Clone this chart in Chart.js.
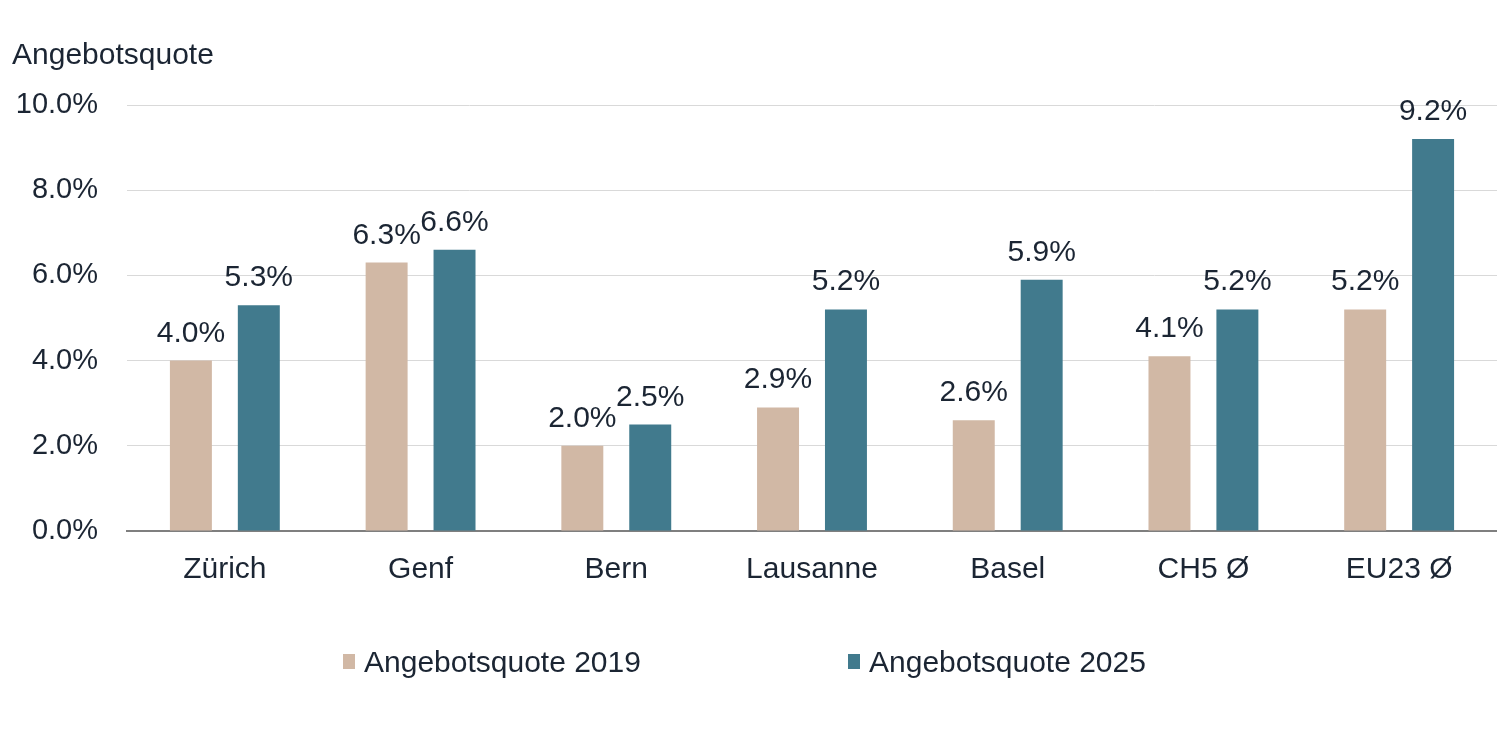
<!DOCTYPE html>
<html>
<head>
<meta charset="utf-8">
<script src="https://cdn.jsdelivr.net/npm/chart.js@4.4.1/dist/chart.umd.min.js"></script>
<style>
  html, body { margin: 0; padding: 0; background: #fff; }
  #wrap { position: relative; width: 1497px; height: 743px; }
  #legend { position: absolute; top: 644px; left: 0; width: 1497px; height: 40px;
    font-family: "Liberation Sans", Arial, sans-serif; font-size: 30px; color: #1b2533; }
  .item { position: absolute; top: 0; white-space: nowrap; line-height: 36px; }
  .box { position: absolute; width: 12px; height: 15px; top: 10px; left: 0; }
  .txt { position: absolute; left: 21px; top: 0; }
</style>
</head>
<body>
<div id="wrap">
  <canvas id="c"></canvas>
  <div id="legend"></div>
</div>
<script>
const categories = ["Zürich", "Genf", "Bern", "Lausanne", "Basel", "CH5 Ø", "EU23 Ø"];
const series2019 = [4.0, 6.3, 2.0, 2.9, 2.6, 4.1, 5.2];
const series2025 = [5.3, 6.6, 2.5, 5.2, 5.9, 5.2, 9.2];
const seriesNames = ["Angebotsquote 2019", "Angebotsquote 2025"];
const yTicks = [0, 2, 4, 6, 8, 10];
const axisTitle = "Angebotsquote";

const colors = ["#d1b8a5", "#417a8d"];
const textColor = "#1b2533";
const fontFamily = '"Liberation Sans", Arial, sans-serif';

const valueLabels = {
  id: 'valueLabels',
  afterDatasetsDraw(chart) {
    const ctx = chart.ctx;
    ctx.save();
    ctx.font = '30px ' + fontFamily;
    ctx.fillStyle = textColor;
    ctx.textAlign = 'center';
    ctx.textBaseline = 'alphabetic';
    chart.data.datasets.forEach((ds, i) => {
      const meta = chart.getDatasetMeta(i);
      meta.data.forEach((el, j) => {
        ctx.fillText(ds.data[j].toFixed(1) + '%', el.x, el.y - 19);
      });
    });
    ctx.restore();
  }
};

const chart = new Chart(document.getElementById('c'), {
  type: 'bar',
  data: {
    labels: categories,
    datasets: [
      { label: seriesNames[0], data: series2019, backgroundColor: colors[0],
        categoryPercentage: 0.694, barPercentage: 0.618 },
      { label: seriesNames[1], data: series2025, backgroundColor: colors[1],
        categoryPercentage: 0.694, barPercentage: 0.618 }
    ]
  },
  options: {
    responsive: true,
    maintainAspectRatio: false,
    animation: false,
    layout: { padding: { left: 12, right: 0, top: 0, bottom: 134 } },
    plugins: {
      legend: { display: false },
      tooltip: { enabled: false },
      title: {
        display: true, text: axisTitle, align: 'start',
        color: textColor, font: { family: fontFamily, size: 30, weight: 'normal' },
        padding: { top: 38, bottom: 31 }
      }
    },
    scales: {
      x: {
        grid: { display: false, drawTicks: false },
        border: { display: true, color: '#7f7f7f', width: 2 },
        ticks: { color: textColor, font: { family: fontFamily, size: 30 }, padding: 21 }
      },
      y: {
        min: 0, max: 10,
        afterBuildTicks(scale) { scale.ticks = yTicks.map(v => ({ value: v })); },
        afterFit(scale) { scale.width = 115; },
        grid: { color: '#d9d9d9', lineWidth: 1, drawTicks: false },
        border: { display: false },
        ticks: { color: textColor, font: { family: fontFamily, size: 29 }, padding: 29,
          callback: v => Number(v).toFixed(1) + '%' }
      }
    }
  },
  plugins: [valueLabels]
});

// legend
const legendEl = document.getElementById('legend');
const legendX = [343, 848];
seriesNames.forEach((name, i) => {
  const it = document.createElement('div');
  it.className = 'item';
  it.style.left = legendX[i] + 'px';
  const b = document.createElement('div');
  b.className = 'box';
  b.style.background = colors[i];
  const t = document.createElement('span');
  t.className = 'txt';
  t.textContent = name;
  it.appendChild(b); it.appendChild(t);
  legendEl.appendChild(it);
});
</script>
</body>
</html>
